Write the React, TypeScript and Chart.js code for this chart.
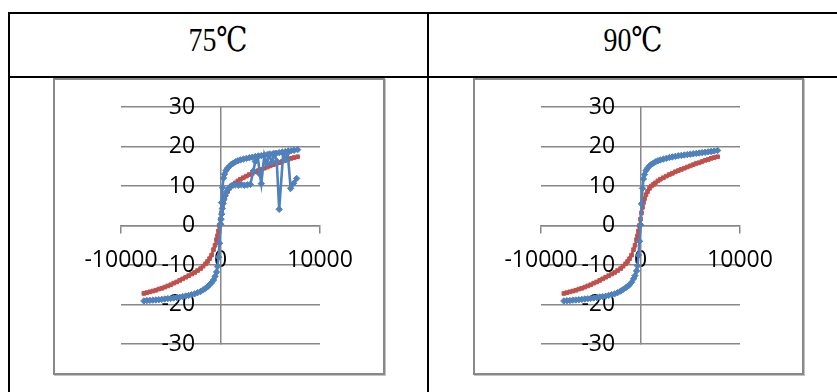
import React, { useEffect, useRef } from "react";
import { Chart, registerables } from "chart.js";

Chart.register(...registerables);

// Axis ticks
const fieldTicks = [-10000, 0, 10000];
const momentTicks = [-30, -20, -10, 0, 10, 20, 30];

// Applied field (Oe) for the full sweeps
const sweepField = [
  -7700, -7400, -7100, -6800, -6500, -6200, -5900, -5600, -5300, -5000,
  -4700, -4400, -4100, -3800, -3500, -3200, -2900, -2600, -2300, -2000,
  -1750, -1500, -1300, -1100, -900, -700, -550, -400, -300, -200, -100,
  0,
  100, 200, 300, 400, 550, 700, 900, 1100, 1300, 1500, 1750,
  2000, 2300, 2600, 2900, 3200, 3500, 3800, 4100, 4400, 4700, 5000,
  5300, 5600, 5900, 6200, 6500, 6800, 7100, 7400, 7750,
];

// Reference sample magnetisation (red)
const refMoment = [
  -17.2, -17.0, -16.8, -16.6, -16.4, -16.1, -15.9, -15.6, -15.3, -15.0,
  -14.6, -14.3, -13.9, -13.5, -13.1, -12.7, -12.3, -11.9, -11.4, -10.9,
  -10.3, -9.7, -9.1, -8.4, -7.5, -6.1, -5.0, -3.6, -2.6, -1.4, 0.0,
  1.6,
  3.2, 4.6, 5.8, 6.8, 7.8, 8.6, 9.4, 10.0, 10.4, 10.8, 11.3,
  11.7, 12.1, 12.5, 12.9, 13.2, 13.6, 13.9, 14.2, 14.5, 14.8, 15.1,
  15.4, 15.7, 15.9, 16.2, 16.5, 16.7, 17.0, 17.2, 17.4,
];

// Magnetisation at 75 °C (blue, main sweep)
const moment75 = [
  -19.1, -19.0, -18.95, -18.9, -18.85, -18.8, -18.7, -18.6, -18.5, -18.45,
  -18.35, -18.25, -18.15, -18.0, -17.85, -17.7, -17.5, -17.3, -17.0, -16.7,
  -16.3, -15.9, -15.5, -15.0, -14.5, -13.8, -12.9, -11.8, -10.4, -8.0, -4.5,
  0.3,
  5.8, 9.6, 12.0, 13.0, 13.9, 14.5, 15.0, 15.5, 15.8, 16.1, 16.4,
  16.6, 16.8, 17.0, 17.15, 17.3, 17.45, 17.6, 17.7, 17.85, 17.95, 18.05,
  18.2, 18.3, 18.45, 18.55, 18.7, 18.8, 18.95, 19.05, 19.2,
];

// Initial magnetisation branch at 75 °C
const initial75Field = [
  0, 60, 120, 180, 260, 350, 450, 600, 800, 1000, 1250, 1500, 1800, 2100,
  2400, 2700, 3000, 3300, 3500, 3750, 3950, 4100, 4400, 4650, 4900, 5150,
  5400, 5650, 5900, 6300, 6550, 6750, 7050, 7350, 7650,
];
const initial75Moment = [
  0.3, 1.6, 2.9, 4.3, 5.6, 6.7, 7.6, 8.5, 9.3, 9.9, 10.2, 10.3, 10.2, 10.3,
  10.2, 10.3, 10.4, 13.8, 16.2, 17.4, 13.0, 10.6, 17.8, 15.6, 18.0, 16.0,
  18.1, 16.3, 4.1, 18.3, 16.7, 18.4, 9.4, 10.7, 11.9,
];

// Magnetisation at 90 °C (blue)
const moment90 = [
  -19.1, -19.05, -19.0, -18.9, -18.85, -18.8, -18.7, -18.6, -18.55, -18.45,
  -18.35, -18.25, -18.1, -18.0, -17.9, -17.7, -17.5, -17.3, -17.0, -16.6,
  -16.2, -15.8, -15.4, -15.0, -14.4, -13.5, -12.7, -11.5, -10.2, -7.5, -4.0,
  0.2,
  5.5, 9.4, 11.8, 12.9, 13.9, 14.5, 15.1, 15.5, 15.8, 16.1, 16.4,
  16.6, 16.8, 17.0, 17.2, 17.35, 17.5, 17.65, 17.75, 17.85, 17.95, 18.05,
  18.15, 18.25, 18.35, 18.45, 18.55, 18.65, 18.75, 18.85, 19.0,
];

const BLUE = "#4F81BD";
const RED = "#C0504D";
const GRID = "#888888";
const TICK_FONT = { family: "'Open Sans', 'DejaVu Sans', sans-serif", size: 23 };

// Field value where the moment labels are right-aligned, just left of the vertical axis
const MOMENT_LABEL_FIELD = -2550;

const toPoints = (xs: number[], ys: number[]) => xs.map((x, i) => ({ x, y: ys[i] }));

const blueSeries = (xs: number[], ys: number[]) => ({
  data: toPoints(xs, ys),
  borderColor: BLUE,
  backgroundColor: BLUE,
  borderWidth: 2.6,
  pointStyle: "rectRot" as const,
  pointRadius: 3.2,
  pointBorderWidth: 1,
  showLine: true,
  tension: 0,
});

const redSeries = (xs: number[], ys: number[]) => ({
  data: toPoints(xs, ys),
  borderColor: RED,
  backgroundColor: RED,
  borderWidth: 2.6,
  pointStyle: "rect" as const,
  pointRadius: 2.6,
  pointBorderWidth: 1,
  showLine: true,
  tension: 0,
});

const noReservedWidth = (s: any) => {
  s.width = 0;
  s.paddingTop = 0;
  s.paddingBottom = 0;
};
const noReservedHeight = (s: any) => {
  s.height = 0;
  s.paddingLeft = 0;
  s.paddingRight = 0;
};

function LoopChart({ datasets }: { datasets: any[] }) {
  const ref = useRef<HTMLCanvasElement>(null);
  useEffect(() => {
    const chart = new Chart(ref.current as HTMLCanvasElement, {
      type: "scatter",
      data: { datasets },
      options: {
        animation: false,
        responsive: false,
        layout: { padding: { left: 66, right: 62, top: 27, bottom: 29 } },
        plugins: { legend: { display: false }, tooltip: { enabled: false } },
        scales: {
          x: {
            type: "linear",
            min: fieldTicks[0],
            max: fieldTicks[fieldTicks.length - 1],
            position: { y: 0 },
            afterBuildTicks: (s: any) => {
              s.ticks = fieldTicks.map((v) => ({ value: v }));
            },
            afterFit: noReservedHeight,
            ticks: {
              font: TICK_FONT,
              color: "#000",
              padding: 14,
              maxRotation: 0,
              autoSkip: false,
              callback: (v: any) => String(v),
            },
            grid: {
              drawOnChartArea: false,
              drawTicks: true,
              tickLength: 7,
              color: GRID,
              lineWidth: 1.5,
            },
            border: { display: true, color: GRID, width: 1.5 },
          },
          y: {
            type: "linear",
            min: momentTicks[0],
            max: momentTicks[momentTicks.length - 1],
            position: { x: 0 },
            afterBuildTicks: (s: any) => {
              s.ticks = momentTicks.map((v) => ({ value: v }));
            },
            afterFit: noReservedWidth,
            ticks: { display: false },
            grid: {
              drawTicks: false,
              color: GRID,
              lineWidth: 1.5,
            },
            border: { display: true, color: GRID, width: 1.5 },
          },
          yLabels: {
            type: "linear",
            min: momentTicks[0],
            max: momentTicks[momentTicks.length - 1],
            position: { x: MOMENT_LABEL_FIELD },
            afterBuildTicks: (s: any) => {
              s.ticks = momentTicks.map((v) => ({ value: v }));
            },
            afterFit: noReservedWidth,
            ticks: {
              font: TICK_FONT,
              color: "#000",
              autoSkip: false,
              callback: (v: any) => String(v),
            },
            grid: { display: false, drawTicks: false },
            border: { display: false },
          },
        },
      },
    });
    return () => chart.destroy();
  }, [datasets]);
  return <canvas ref={ref} width={327} height={293} style={{ display: "block" }} />;
}

const chart75 = [
  blueSeries(sweepField, moment75),
  blueSeries(initial75Field, initial75Moment),
  redSeries(sweepField, refMoment),
];

const chart90 = [
  blueSeries(sweepField, moment90),
  redSeries(sweepField, refMoment),
];

const line = (left: number, top: number, width: number, height: number): React.CSSProperties => ({
  position: "absolute",
  left,
  top,
  width,
  height,
  background: "#000",
});

const frame = (left: number, width: number): React.CSSProperties => ({
  position: "absolute",
  left,
  top: 78,
  width,
  height: 297,
  boxSizing: "border-box",
  border: `2px solid ${GRID}`,
  boxShadow: "1px 1px 0 #c4c4c4",
  background: "#fff",
  overflow: "hidden",
});

const headStyle = (center: number): React.CSSProperties => ({
  position: "absolute",
  left: center - 100,
  width: 200,
  top: 22,
  textAlign: "center",
  fontFamily: "'Liberation Serif', 'DejaVu Serif', serif",
  fontSize: 34,
  lineHeight: "36px",
  color: "#000",
  transform: "scaleX(0.82)",
});

export default function App() {
  return (
    <div style={{ position: "absolute", left: 0, top: 0, width: 837, height: 392, background: "#fff", overflow: "hidden" }}>
      <div style={line(8, 12, 829, 2)} />
      <div style={line(8, 76, 829, 2)} />
      <div style={line(8, 12, 2, 380)} />
      <div style={line(427, 12, 2, 380)} />
      <div style={headStyle(218)}>75℃</div>
      <div style={headStyle(633)}>90℃</div>
      <div style={frame(53, 332)}>
        <LoopChart datasets={chart75} />
      </div>
      <div style={frame(473, 331)}>
        <LoopChart datasets={chart90} />
      </div>
    </div>
  );
}
